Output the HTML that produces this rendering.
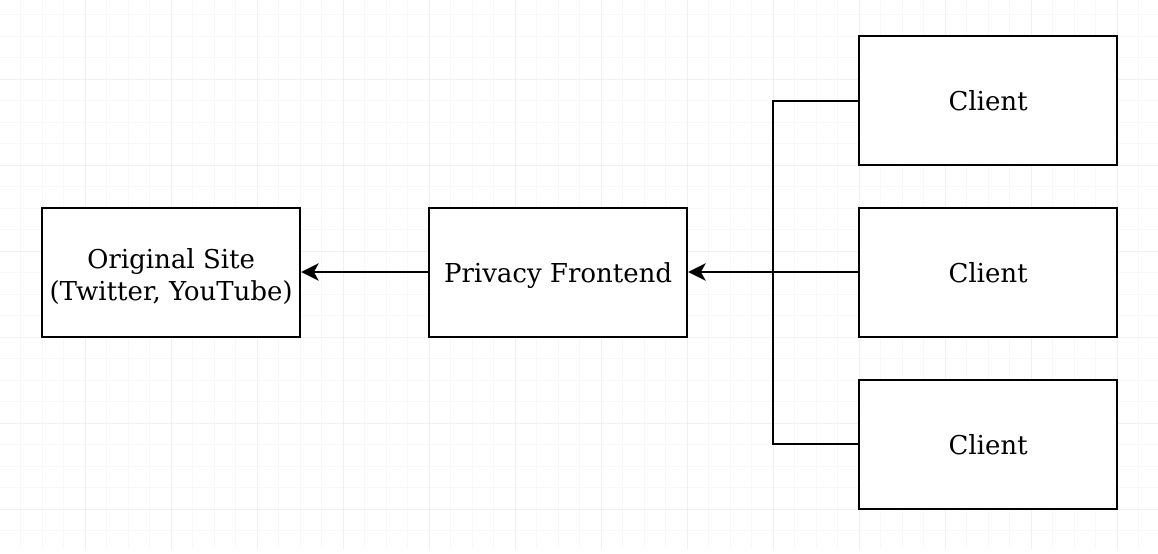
<!DOCTYPE html>
<html><head><style>
body{margin:0;width:1158px;height:549px;overflow:hidden;background:#fff}
</style></head><body>
<svg width="1158" height="549" xmlns="http://www.w3.org/2000/svg">
<defs>
<pattern id="minor" x="-1" y="-7" width="21.5" height="21.5" patternUnits="userSpaceOnUse">
<path d="M0 0H21.5M0 0V21.5" stroke="#f0f0f0" stroke-width="1" fill="none"/>
</pattern>
<pattern id="major" x="-1" y="-7" width="86" height="86" patternUnits="userSpaceOnUse">
<path d="M0 0H86M0 0V86" stroke="#e0e0e0" stroke-width="1" fill="none"/>
</pattern>
</defs>
<rect width="1158" height="549" fill="url(#minor)"/>
<rect width="1158" height="549" fill="url(#major)"/>
<g fill="#fff" stroke="#000" stroke-width="2">
<rect x="42" y="208" width="258" height="129"/>
<rect x="429" y="208" width="258" height="129"/>
<rect x="859" y="36" width="258" height="129"/>
<rect x="859" y="208" width="258" height="129"/>
<rect x="859" y="380" width="258" height="129"/>
</g>
<g fill="none" stroke="#000" stroke-width="2">
<path d="M429 272H310"/>
<path d="M859 101H773V444H859"/>
<path d="M859 272H697"/>
</g>
<path d="M301 272L319 263L314 272L319 281Z" fill="#000"/>
<path d="M688 272L706 263L701 272L706 281Z" fill="#000"/>
<g font-family="'DejaVu Serif','Liberation Serif',serif" font-size="26" text-anchor="middle" fill="#000">
<text x="171" y="268">Original Site</text>
<text x="171" y="300">(Twitter, YouTube)</text>
<text x="558" y="282">Privacy Frontend</text>
<text x="988" y="110">Client</text>
<text x="988" y="282">Client</text>
<text x="988" y="454">Client</text>
</g>
</svg>
</body></html>
